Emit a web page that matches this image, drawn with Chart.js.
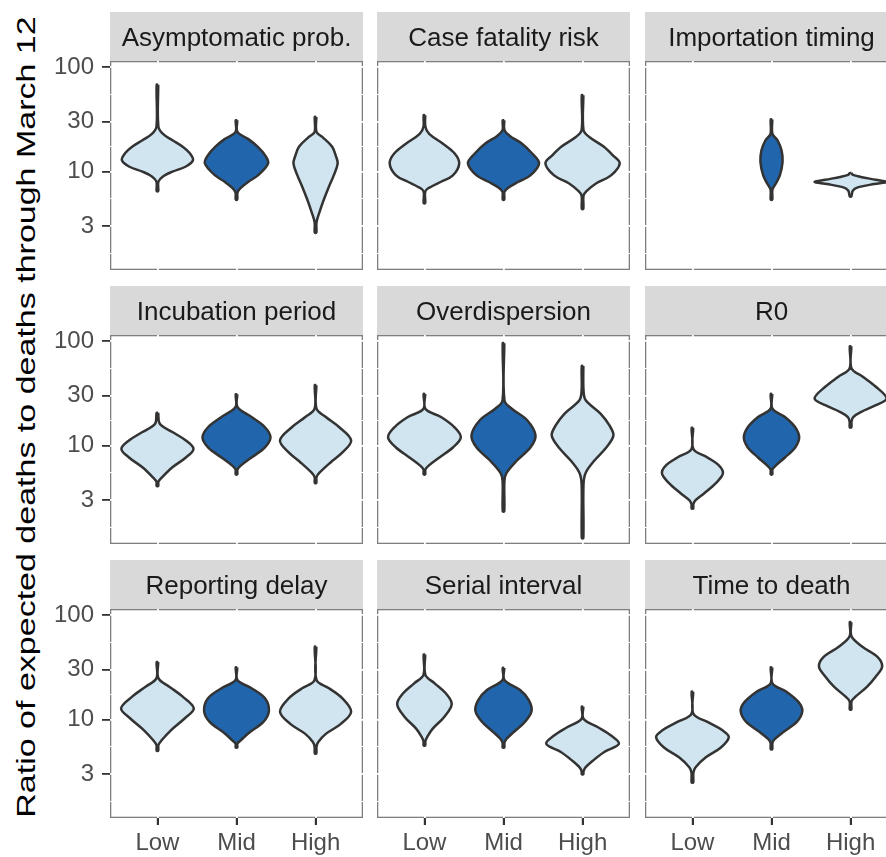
<!DOCTYPE html>
<html lang="en">
<head>
<meta charset="UTF-8">
<title>Ratio of expected deaths by parameter</title>
<script src="https://cdn.jsdelivr.net/npm/chart.js"></script>
<style>
  html, body { margin: 0; padding: 0; overflow: hidden; background: #fff; }
  body { position: relative; width: 886px; height: 857px; font-family: 'Liberation Sans', Arial, sans-serif; }
  canvas { position: absolute; }
  #ytitle {
    position: absolute; left: -424px; top: 400px; width: 900px; height: 34px;
    line-height: 34px; font-size: 34px; text-align: center; white-space: nowrap; color: #000;
    transform: rotate(-90deg) scaleY(0.78);
  }
</style>
</head>
<body>
<div id="ytitle">Ratio of expected deaths to deaths through March 12</div>
<script>
const levels = ['Low', 'Mid', 'High'];
const panelNames = ['Asymptomatic prob.', 'Case fatality risk', 'Importation timing',
                    'Incubation period', 'Overdispersion', 'R0',
                    'Reporting delay', 'Serial interval', 'Time to death'];
const yTicks = [3, 10, 30, 100];
const yMinorTicks = [1.64, 5.48, 17.3, 54.8];

// violin outlines, top tip to bottom tip: [ratio, half width in category units]
const asymptomatic = [
  [[68,0.01],[27,0.012],[23,0.07],[20,0.19],[17.3,0.32],[15,0.41],[12.9,0.45],[11.2,0.36],[10,0.19],[9.0,0.07],[8.0,0.012],[6.5,0.01]],
  [[31,0.01],[24,0.012],[20.5,0.15],[17.3,0.27],[14.4,0.36],[12.0,0.40],[9.2,0.27],[8.0,0.15],[6.95,0.05],[6.3,0.012],[5.4,0.01]],
  [[33.4,0.01],[24,0.012],[21.5,0.085],[17.3,0.21],[13.9,0.26],[12.0,0.28],[9.2,0.23],[7.2,0.17],[5.4,0.105],[4.1,0.05],[3.27,0.012],[2.6,0.01]]
];
const caseFatality = [
  [[34.7,0.01],[27,0.012],[23,0.06],[18.6,0.23],[15,0.38],[12.0,0.44],[9.2,0.36],[8.0,0.21],[7.2,0.09],[6.5,0.012],[5.0,0.01]],
  [[31,0.01],[25,0.012],[22,0.08],[18.6,0.23],[15,0.36],[12.0,0.45],[9.2,0.34],[8.0,0.19],[7.0,0.06],[6.4,0.012],[5.4,0.01]],
  [[54,0.01],[25,0.012],[21.5,0.085],[17.3,0.27],[14.4,0.38],[12.0,0.47],[9.2,0.36],[7.7,0.17],[6.5,0.05],[5.9,0.012],[4.4,0.01]]
];
const importation = [
  null,
  [[31.6,0.01],[23,0.012],[20,0.076],[16,0.127],[12.4,0.14],[9.2,0.105],[7.7,0.055],[6.75,0.012],[5.4,0.01]],
  [[9.7,0.01],[9.3,0.03],[8.9,0.13],[8.35,0.32],[7.95,0.455],[7.6,0.30],[7.1,0.10],[6.6,0.03],[5.8,0.01]]
];
const incubation = [
  [[20.6,0.01],[16.2,0.03],[13.5,0.19],[11.2,0.36],[9.3,0.456],[7.7,0.36],[6.2,0.19],[4.9,0.05],[4.5,0.012],[4.1,0.01]],
  [[31,0.01],[23.5,0.012],[18.8,0.19],[15,0.36],[12.0,0.43],[9.6,0.36],[7.7,0.19],[6.4,0.05],[5.9,0.012],[5.3,0.01]],
  [[38,0.01],[22.6,0.012],[18.8,0.13],[15,0.30],[11.2,0.45],[8.6,0.34],[6.9,0.19],[5.5,0.05],[5.0,0.012],[4.4,0.01]]
];
const overdispersion = [
  [[31.2,0.01],[22.6,0.012],[18.8,0.21],[15,0.38],[12.0,0.46],[9.6,0.36],[7.7,0.19],[6.4,0.05],[5.9,0.012],[5.3,0.01]],
  [[96,0.01],[27.2,0.012],[22.6,0.105],[17.5,0.30],[12.5,0.405],[9.6,0.34],[7.2,0.17],[5.5,0.04],[4.6,0.012],[2.35,0.01]],
  [[58,0.01],[34,0.012],[27.2,0.04],[20.2,0.23],[15.6,0.34],[12.5,0.39],[9.6,0.30],[7.2,0.15],[5.5,0.04],[4.26,0.012],[1.30,0.01]]
];
const r0 = [
  [[14.8,0.01],[9.3,0.012],[7.7,0.19],[6.4,0.34],[5.4,0.385],[4.4,0.30],[3.5,0.15],[3.0,0.04],[2.75,0.012],[2.5,0.01]],
  [[31.2,0.01],[22.6,0.012],[18.8,0.17],[15,0.30],[12.0,0.35],[9.6,0.30],[7.7,0.17],[6.4,0.05],[5.9,0.012],[5.3,0.01]],
  [[89.5,0.01],[55,0.012],[46,0.15],[36.7,0.32],[28.3,0.455],[24.4,0.32],[21,0.13],[18.8,0.034],[17,0.012],[15,0.01]]
];
const reportingDelay = [
  [[35.6,0.01],[25,0.012],[20.7,0.15],[16.6,0.32],[12.8,0.46],[10.2,0.34],[7.9,0.17],[6.3,0.05],[5.7,0.012],[5.05,0.01]],
  [[31.6,0.01],[24,0.012],[20,0.19],[16,0.36],[12.1,0.41],[9.5,0.34],[7.6,0.17],[6.3,0.05],[5.9,0.012],[5.4,0.01]],
  [[50,0.01],[24,0.012],[20,0.17],[16,0.34],[11.9,0.45],[9.1,0.32],[7.3,0.13],[6.1,0.034],[5.5,0.012],[4.75,0.01]]
];
const serialInterval = [
  [[42,0.01],[26.9,0.012],[22.3,0.13],[17.9,0.27],[14.1,0.345],[10.6,0.25],[8.2,0.105],[6.8,0.034],[6.2,0.012],[5.65,0.01]],
  [[31.2,0.01],[24,0.012],[19.2,0.21],[15.4,0.32],[12.1,0.355],[9.5,0.27],[7.6,0.13],[6.55,0.04],[6.0,0.012],[5.4,0.01]],
  [[13.3,0.01],[10.2,0.012],[8.5,0.19],[7.05,0.36],[5.86,0.46],[4.87,0.27],[4.04,0.13],[3.5,0.04],[3.2,0.012],[3.0,0.01]]
];
const timeToDeath = [
  [[18.5,0.01],[11.4,0.012],[9.5,0.19],[7.9,0.38],[6.8,0.46],[5.4,0.36],[4.35,0.17],[3.5,0.04],[3.1,0.012],[2.5,0.01]],
  [[31.6,0.01],[22.3,0.012],[18.5,0.19],[14.8,0.34],[12.1,0.39],[9.5,0.32],[7.6,0.15],[6.5,0.04],[6.0,0.012],[5.2,0.01]],
  [[86,0.01],[63,0.012],[50,0.15],[40,0.34],[32.4,0.40],[25.9,0.32],[20.7,0.21],[16.6,0.063],[15,0.012],[12.5,0.01]]
];

const panels = [asymptomatic, caseFatality, importation, incubation, overdispersion, r0,
                reportingDelay, serialInterval, timeToDeath];

const family = "'Liberation Sans', Arial, sans-serif";
Chart.defaults.font.family = family;

// page layout (px)
const colLeft = [110, 377, 645];
const stripTop = [12, 286, 560];
const panelW = 253, panelH = 209, stripH = 49;

const framePlugin = {
  id: 'panelFrame',
  beforeDraw(chart, args, opts) {
    const {ctx, chartArea: a} = chart;
    ctx.save();
    ctx.fillStyle = '#D9D9D9';
    ctx.fillRect(a.left, a.top - stripH, a.right - a.left, stripH);
    ctx.fillStyle = '#1A1A1A';
    ctx.font = '26px ' + family;
    ctx.textAlign = 'center';
    ctx.textBaseline = 'alphabetic';
    ctx.fillText(opts.title, (a.left + a.right) / 2, a.top - 15.5);
    ctx.strokeStyle = '#7F7F7F';
    ctx.lineWidth = 1.3;
    ctx.strokeRect(a.left + 0.65, a.top + 0.65, a.right - a.left - 1.3, a.bottom - a.top - 1.3);
    ctx.restore();
  }
};

// closed outline: down the right side, back up the left side
function violinPoints(profile, pos) {
  const right = profile.map(([v, w]) => ({x: pos + w, y: v}));
  const left = profile.slice().reverse().map(([v, w]) => ({x: pos - w, y: v}));
  return right.concat(left, [right[0]]);
}

const isMajor = c => c.tick && yTicks.includes(c.tick.value);

panels.forEach((violins, k) => {
  const row = Math.floor(k / 3), col = k % 3;
  const L = col === 0 ? 110 : 3, R = 3, T = stripH + 2, B = row === 2 ? 40 : 25;
  const canvas = document.createElement('canvas');
  canvas.width = L + panelW + R;
  canvas.height = T + panelH + B;
  canvas.style.left = (colLeft[col] - L) + 'px';
  canvas.style.top = (stripTop[row] - 2) + 'px';
  document.body.appendChild(canvas);

  const datasets = [];
  violins.forEach((p, i) => {
    if (!p) return;
    datasets.push({
      data: violinPoints(p, i + 1),
      showLine: true,
      fill: 'shape',
      backgroundColor: i === 1 ? '#2166AC' : '#D1E5F0',
      borderColor: '#333333',
      borderWidth: 2.5,
      borderJoinStyle: 'round',
      pointRadius: 0,
      tension: 0.35
    });
  });

  new Chart(canvas, {
    type: 'scatter',
    data: { datasets },
    options: {
      responsive: false,
      animation: false,
      devicePixelRatio: 1,
      events: [],
      layout: { padding: { top: T, right: R, left: 0, bottom: 0 } },
      plugins: {
        legend: { display: false },
        tooltip: { enabled: false },
        panelFrame: { title: panelNames[k] }
      },
      scales: {
        x: {
          type: 'linear', min: 0.4, max: 3.6,
          afterBuildTicks: s => { s.ticks = levels.map((_, i) => ({value: i + 1})); },
          afterFit: s => { s.height = B; },
          border: { display: false },
          grid: { color: '#FFFFFF', lineWidth: 1.8, drawTicks: row === 2, tickLength: 7,
                  tickColor: '#333333', tickWidth: 2.2 },
          ticks: { display: row === 2, callback: v => levels[v - 1], color: '#4D4D4D',
                   font: { size: 24 }, padding: 4, autoSkip: false, maxRotation: 0 }
        },
        y: {
          type: 'logarithmic', min: 1.14, max: 115,
          afterBuildTicks: s => {
            s.ticks = yTicks.concat(yMinorTicks).sort((a, b) => a - b).map(v => ({value: v}));
          },
          afterFit: s => { s.width = L; },
          border: { display: false },
          grid: { color: '#FFFFFF', lineWidth: c => isMajor(c) ? 1.8 : 1.1,
                  drawTicks: col === 0, tickLength: 8,
                  tickColor: c => isMajor(c) ? '#333333' : 'rgba(0,0,0,0)', tickWidth: 1.8 },
          ticks: { display: col === 0, callback: v => yTicks.includes(v) ? String(v) : '',
                   color: '#4D4D4D', font: { size: 24 }, padding: 8, autoSkip: false }
        }
      }
    },
    plugins: [framePlugin]
  });
});
</script>
</body>
</html>
